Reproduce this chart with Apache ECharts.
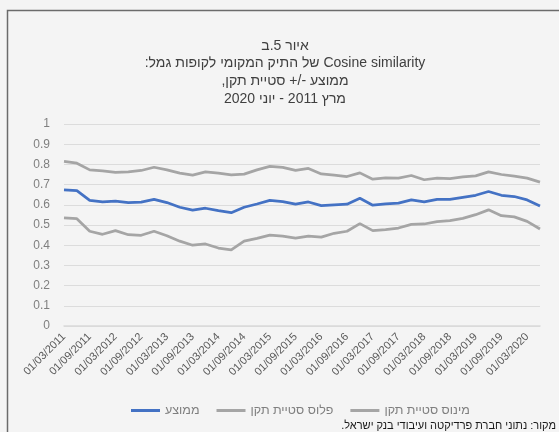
<!DOCTYPE html>
<html>
<head>
<meta charset="utf-8">
<script src="https://cdn.jsdelivr.net/npm/echarts@6/dist/echarts.min.js"></script>
<style>
html,body{margin:0;padding:0;background:#f4f4f4;}
#c{width:559px;height:432px;direction:rtl;}
</style>
</head>
<body>
<div id="c"></div>
<script>
const categories = [
  "01/03/2011","01/06/2011","01/09/2011","01/12/2011",
  "01/03/2012","01/06/2012","01/09/2012","01/12/2012",
  "01/03/2013","01/06/2013","01/09/2013","01/12/2013",
  "01/03/2014","01/06/2014","01/09/2014","01/12/2014",
  "01/03/2015","01/06/2015","01/09/2015","01/12/2015",
  "01/03/2016","01/06/2016","01/09/2016","01/12/2016",
  "01/03/2017","01/06/2017","01/09/2017","01/12/2017",
  "01/03/2018","01/06/2018","01/09/2018","01/12/2018",
  "01/03/2019","01/06/2019","01/09/2019","01/12/2019",
  "01/03/2020","01/06/2020"
];
const meanValues = [0.674,0.670,0.622,0.614,0.618,0.611,0.613,0.627,0.611,0.588,0.574,0.583,0.571,0.561,0.588,0.604,0.622,0.616,0.603,0.614,0.596,0.600,0.603,0.632,0.598,0.604,0.608,0.624,0.614,0.627,0.627,0.637,0.647,0.666,0.647,0.641,0.624,0.594];
const plusValues = [0.815,0.806,0.773,0.768,0.760,0.763,0.770,0.786,0.773,0.757,0.747,0.763,0.757,0.748,0.752,0.773,0.790,0.785,0.770,0.780,0.753,0.747,0.740,0.758,0.727,0.733,0.732,0.745,0.724,0.732,0.730,0.738,0.743,0.763,0.750,0.742,0.732,0.712];
const minusValues = [0.535,0.531,0.469,0.454,0.472,0.452,0.449,0.469,0.447,0.420,0.400,0.406,0.386,0.377,0.420,0.434,0.450,0.445,0.435,0.445,0.440,0.459,0.469,0.507,0.472,0.477,0.485,0.503,0.505,0.517,0.522,0.533,0.551,0.575,0.546,0.540,0.518,0.480];
const seriesNames = ["ממוצע","פלוס סטיית תקן","מינוס סטיית תקן"];
const titleLines = ["איור 5.ב","Cosine similarity של התיק המקומי לקופות גמל:","ממוצע -/+ סטיית תקן,","מרץ 2011 - יוני 2020"];
const sourceText = "מקור: נתוני חברת פרדיקטה ועיבודי בנק ישראל.";

const FONT = "'Liberation Sans', 'DejaVu Sans', sans-serif";
const chart = echarts.init(document.getElementById('c'), null, {renderer:'canvas'});
chart.setOption({
  backgroundColor: '#f4f4f4',
  animation: false,
  textStyle: {fontFamily: FONT},
  title: {
    text: titleLines.join('\n'),
    left: 280, top: 32, textAlign: 'center',
    textStyle: {fontFamily: FONT, fontSize: 14, fontWeight: 'normal', color: '#404040', lineHeight: 17.7}
  },
  legend: {
    data: seriesNames,
    left: 126, top: 399,
    icon: 'rect', itemWidth: 29, itemHeight: 3, itemGap: 17,
    textStyle: {fontFamily: FONT, fontSize: 12.5, color: '#7f7f7f'}
  },
  grid: {left: 64, right: 19, top: 124, bottom: 106, containLabel: false},
  xAxis: {
    type: 'category', data: categories, boundaryGap: false,
    axisLine: {lineStyle: {color: '#d9d9d9', width: 1.5}},
    axisTick: {show: false},
    axisLabel: {interval: 1, rotate: 45, fontSize: 11, color: '#595959', fontFamily: FONT, margin: 9}
  },
  yAxis: {
    type: 'value', min: 0, max: 1, interval: 0.1,
    axisLine: {show: false}, axisTick: {show: false},
    axisLabel: {fontSize: 12, color: '#7f7f7f', fontFamily: FONT, margin: 14},
    splitLine: {lineStyle: {color: '#dcdcdc', width: 1}}
  },
  series: [
    {name: seriesNames[0], type: 'line', data: meanValues, showSymbol: false, symbol: 'none', lineStyle: {color: '#4472C4', width: 2.75}, itemStyle: {color: '#4472C4'}, z: 3},
    {name: seriesNames[1], type: 'line', data: plusValues, showSymbol: false, symbol: 'none', lineStyle: {color: '#A5A5A5', width: 2.75}, itemStyle: {color: '#A5A5A5'}},
    {name: seriesNames[2], type: 'line', data: minusValues, showSymbol: false, symbol: 'none', lineStyle: {color: '#A5A5A5', width: 2.75}, itemStyle: {color: '#A5A5A5'}}
  ],
  graphic: [
    {type: 'rect', shape: {x: 7.5, y: 10.5, width: 600, height: 500}, style: {fill: 'none', stroke: '#6b6b6b', lineWidth: 1.5}, silent: true, z: -1},
    {type: 'text', x: 556, y: 426, style: {text: sourceText, fontFamily: FONT, fontSize: 11, fill: '#1a1a1a', textAlign: 'right', textVerticalAlign: 'middle'}}
  ]
});
</script>
</body>
</html>
